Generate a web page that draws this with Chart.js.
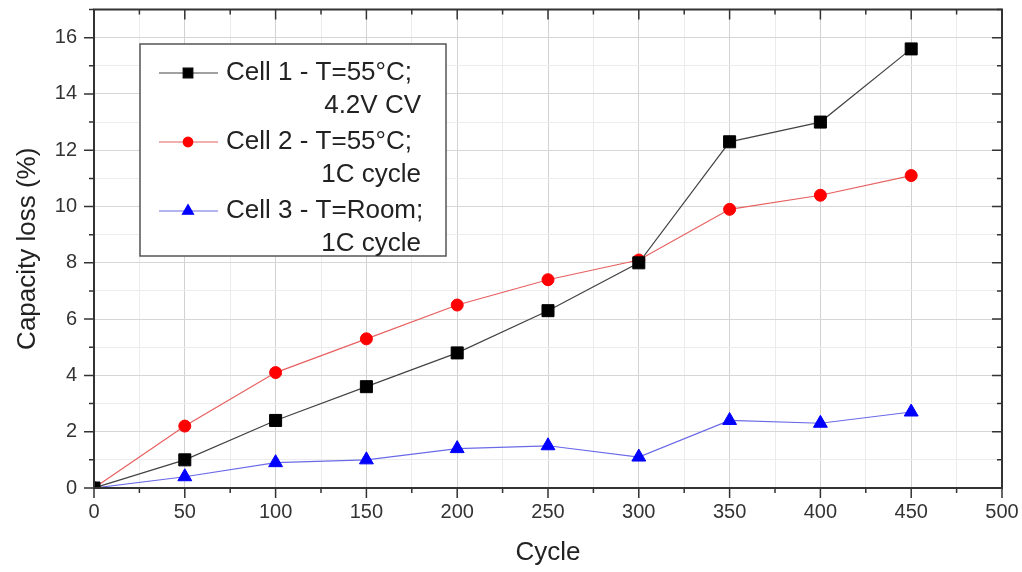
<!DOCTYPE html>
<html lang="en">
<head>
    <meta charset="UTF-8">
    <title>Capacity loss vs cycle</title>
    <script src="https://cdn.jsdelivr.net/npm/chart.js@4.4.1/dist/chart.umd.min.js"></script>
    <style>
        html, body { margin: 0; padding: 0; background: #fff; }
        .chart-container { position: relative; width: 1022px; height: 572px; }
    </style>
</head>
<body>
    <div class="chart-container">
        <canvas id="lossChart"></canvas>
    </div>

    <script>
        // values
        const cycles = [0, 50, 100, 150, 200, 250, 300, 350, 400, 450];
        const cell1 = [0, 1.0, 2.4, 3.6, 4.8, 6.3, 8.0, 12.3, 13.0, 15.6];
        const cell2 = [0, 2.2, 4.1, 5.3, 6.5, 7.4, 8.1, 9.9, 10.4, 11.1];
        const cell3 = [0, 0.4, 0.9, 1.0, 1.4, 1.5, 1.1, 2.4, 2.3, 2.7];
        const legendText = [
            ['Cell 1 - T=55°C;', '4.2V CV'],
            ['Cell 2 - T=55°C;', '1C cycle'],
            ['Cell 3 - T=Room;', '1C cycle']
        ];

        const FONT = "'Liberation Sans', Arial, sans-serif";
        const AXIS = '#333';

        function toXY(ys) {
            return cycles.map((c, i) => ({ x: c, y: ys[i] }));
        }

        // frame with ticks on all four sides (outside on left/bottom, inside on top/right)
        const framePlugin = {
            id: 'frame',
            afterDatasetsDraw(chart) {
                const { ctx, chartArea: a, scales: { x, y } } = chart;
                ctx.save();
                ctx.strokeStyle = AXIS;
                ctx.lineWidth = 2;
                ctx.strokeRect(a.left, a.top, a.right - a.left, a.bottom - a.top);
                ctx.lineWidth = 1.5;
                ctx.beginPath();
                x.ticks.forEach(t => {
                    const px = x.getPixelForValue(t.value);
                    const len = t.value % 50 === 0 ? 10 : 5;
                    ctx.moveTo(px, a.bottom); ctx.lineTo(px, a.bottom + len);
                    ctx.moveTo(px, a.top); ctx.lineTo(px, a.top + len);
                });
                y.ticks.forEach(t => {
                    const py = y.getPixelForValue(t.value);
                    const len = t.value % 2 === 0 ? 10 : 5;
                    ctx.moveTo(a.left, py); ctx.lineTo(a.left - len, py);
                    ctx.moveTo(a.right, py); ctx.lineTo(a.right - len, py);
                });
                ctx.stroke();
                ctx.restore();
            }
        };

        // boxed legend inside the plot with two-line labels
        const legendPlugin = {
            id: 'boxLegend',
            afterDraw(chart) {
                const ctx = chart.ctx;
                const box = { left: 140, top: 44, right: 446, bottom: 256 };
                ctx.save();
                ctx.fillStyle = '#fff';
                ctx.fillRect(box.left, box.top, box.right - box.left, box.bottom - box.top);
                ctx.strokeStyle = '#555';
                ctx.lineWidth = 1.5;
                ctx.strokeRect(box.left, box.top, box.right - box.left, box.bottom - box.top);
                ctx.font = '26px ' + FONT;
                ctx.textBaseline = 'middle';
                chart.data.datasets.forEach((ds, i) => {
                    const rowY = box.top + 29 + i * 69;
                    ctx.strokeStyle = ds.borderColor;
                    ctx.lineWidth = ds.borderWidth;
                    ctx.beginPath();
                    ctx.moveTo(159, rowY); ctx.lineTo(218, rowY);
                    ctx.stroke();
                    ctx.fillStyle = ds.pointBackgroundColor;
                    ctx.strokeStyle = ds.pointBorderColor;
                    Chart.helpers.drawPoint(ctx, {
                        pointStyle: ds.pointStyle, radius: ds.pointRadius * 0.8,
                        rotation: 0, borderWidth: 1
                    }, 188, rowY);
                    ctx.fillStyle = '#222';
                    ctx.textAlign = 'left';
                    ctx.fillText(legendText[i][0], 226, rowY);
                    ctx.textAlign = 'right';
                    ctx.fillText(legendText[i][1], 421, rowY + 33);
                });
                ctx.restore();
            }
        };

        const common = {
            borderWidth: 1.2,
            tension: 0,
            fill: false,
            pointBorderWidth: 1
        };

        new Chart(document.getElementById('lossChart'), {
            type: 'line',
            data: {
                datasets: [
                    Object.assign({
                        label: legendText[0].join(' '),
                        data: toXY(cell1),
                        borderColor: '#444',
                        pointStyle: 'rect',
                        pointRadius: 8.5,
                        pointBackgroundColor: '#000',
                        pointBorderColor: '#000'
                    }, common),
                    Object.assign({
                        label: legendText[1].join(' '),
                        data: toXY(cell2),
                        borderColor: '#e86060',
                        pointStyle: 'circle',
                        pointRadius: 6,
                        pointBackgroundColor: '#ff0000',
                        pointBorderColor: '#ff0000'
                    }, common),
                    Object.assign({
                        label: legendText[2].join(' '),
                        data: toXY(cell3),
                        borderColor: '#6a6ae8',
                        pointStyle: 'triangle',
                        pointRadius: 8,
                        pointBackgroundColor: '#0000ff',
                        pointBorderColor: '#0000ff'
                    }, common)
                ]
            },
            options: {
                responsive: true,
                maintainAspectRatio: false,
                animation: false,
                layout: { padding: { left: 0, top: 9, right: 20, bottom: 0 } },
                plugins: {
                    legend: { display: false },
                    tooltip: { enabled: false }
                },
                scales: {
                    x: {
                        type: 'linear',
                        min: 0,
                        max: 500,
                        afterFit: s => {
                            s.height = 84;
                            s.paddingLeft = 0; s.paddingRight = 0;
                        },
                        ticks: {
                            stepSize: 25,
                            autoSkip: false,
                            maxRotation: 0,
                            padding: 12,
                            color: AXIS,
                            font: { family: FONT, size: 20 },
                            callback: v => (v % 50 === 0 ? v : '')
                        },
                        grid: {
                            drawTicks: false,
                            color: c => (c.tick.value % 50 === 0 ? '#d2d2d2' : '#ececec')
                        },
                        border: { display: false },
                        title: {
                            display: true,
                            text: 'Cycle',
                            color: '#222',
                            font: { family: FONT, size: 26 },
                            padding: { top: 0, bottom: 4 }
                        }
                    },
                    y: {
                        min: 0,
                        max: 17,
                        afterFit: s => {
                            s.width = 94;
                            s.paddingTop = 0; s.paddingBottom = 0;
                        },
                        ticks: {
                            stepSize: 1,
                            autoSkip: false,
                            padding: 17,
                            color: AXIS,
                            font: { family: FONT, size: 20 },
                            callback: v => (v % 2 === 0 && v <= 16 ? v : '')
                        },
                        grid: {
                            drawTicks: false,
                            color: c => (c.tick.value % 2 === 0 ? '#d6d6d6' : '#ececec')
                        },
                        border: { display: false },
                        title: {
                            display: true,
                            text: 'Capacity loss (%)',
                            color: '#222',
                            font: { family: FONT, size: 26 },
                            padding: { top: 12, bottom: 0 }
                        }
                    }
                }
            },
            plugins: [framePlugin, legendPlugin]
        });
    </script>
</body>
</html>
